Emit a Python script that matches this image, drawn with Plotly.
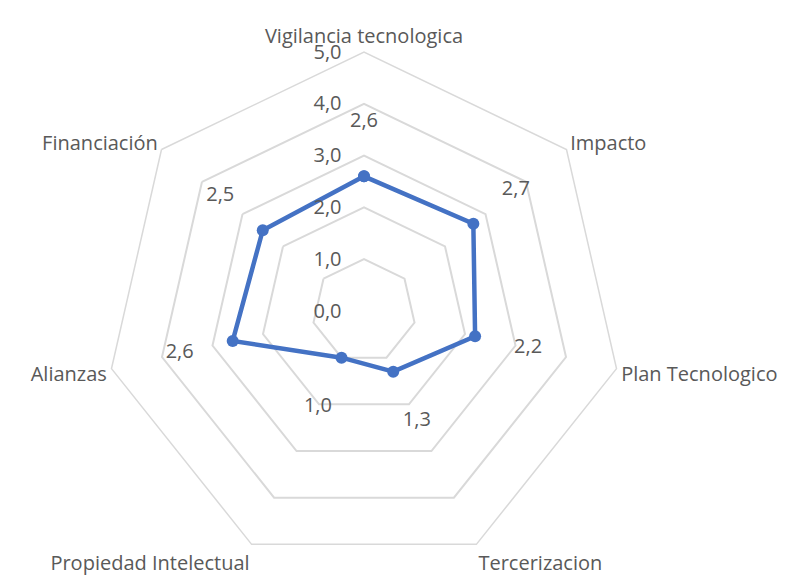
import plotly.graph_objects as go

categories = [
    "Vigilancia tecnologica",
    "Impacto",
    "Plan Tecnologico",
    "Tercerizacion",
    "Propiedad Intelectual",
    "Alianzas",
    "Financiación",
]
values = [2.6, 2.7, 2.2, 1.3, 1.0, 2.6, 2.5]
radial_ticks = [0, 1, 2, 3, 4, 5]

LINE_COLOR = "#4472C4"
GRID_COLOR = "#D9D9D9"
TEXT_COLOR = "#595959"
FONT = "Open Sans, Liberation Sans, sans-serif"
FONT_SIZE = 20

label_offset = 1.05

fig = go.Figure()

fig.add_trace(
    go.Scatterpolar(
        r=values + values[:1],
        theta=categories + categories[:1],
        mode="lines+markers",
        line={"color": LINE_COLOR, "width": 4.5},
        marker={"color": LINE_COLOR, "size": 12},
        showlegend=False,
        hoverinfo="skip",
    )
)

# data labels sit a bit further out along each spoke
fig.add_trace(
    go.Scatterpolar(
        r=[v + label_offset for v in values],
        theta=categories,
        mode="text",
        text=[f"{v:.1f}".replace(".", ",") for v in values],
        textfont={"color": TEXT_COLOR, "size": FONT_SIZE, "family": FONT},
        showlegend=False,
        hoverinfo="skip",
    )
)

# invisible trace so a second, shifted polar carries the radial tick labels
fig.add_trace(
    go.Scatterpolar(
        r=values,
        theta=categories,
        mode="markers",
        marker={"opacity": 0},
        subplot="polar2",
        showlegend=False,
        hoverinfo="skip",
    )
)

angular_common = {"direction": "clockwise", "rotation": 90, "ticks": "", "showgrid": False}

fig.update_layout(
    width=795,
    height=576,
    paper_bgcolor="white",
    plot_bgcolor="white",
    font={"color": TEXT_COLOR, "family": FONT},
    separators=",.",
    margin={"l": 0, "r": 0, "t": 44, "b": 14},
    polar={
        "domain": {"x": [0, 712 / 795], "y": [0, 1]},
        "bgcolor": "white",
        "gridshape": "linear",
        "radialaxis": {
            "range": [0, 5],
            "tickvals": radial_ticks,
            "showticklabels": False,
            "showline": False,
            "ticks": "",
            "gridcolor": GRID_COLOR,
            "gridwidth": 1.5,
        },
        "angularaxis": {
            **angular_common,
            "showline": True,
            "linecolor": GRID_COLOR,
            "linewidth": 1.5,
            "tickfont": {"color": TEXT_COLOR, "size": FONT_SIZE, "family": FONT},
        },
    },
    polar2={
        "domain": {"x": [0, 674 / 795], "y": [0, 1]},
        "bgcolor": "rgba(0,0,0,0)",
        "gridshape": "linear",
        "radialaxis": {
            "range": [0, 5],
            "tickvals": radial_ticks,
            "tickformat": ".1f",
            "angle": 90,
            "tickangle": 90,
            "side": "counterclockwise",
            "showline": False,
            "showgrid": False,
            "ticks": "",
            "tickfont": {"color": TEXT_COLOR, "size": FONT_SIZE, "family": FONT},
        },
        "angularaxis": {
            **angular_common,
            "showline": False,
            "showticklabels": False,
        },
    },
)

fig.write_html("out.html")
